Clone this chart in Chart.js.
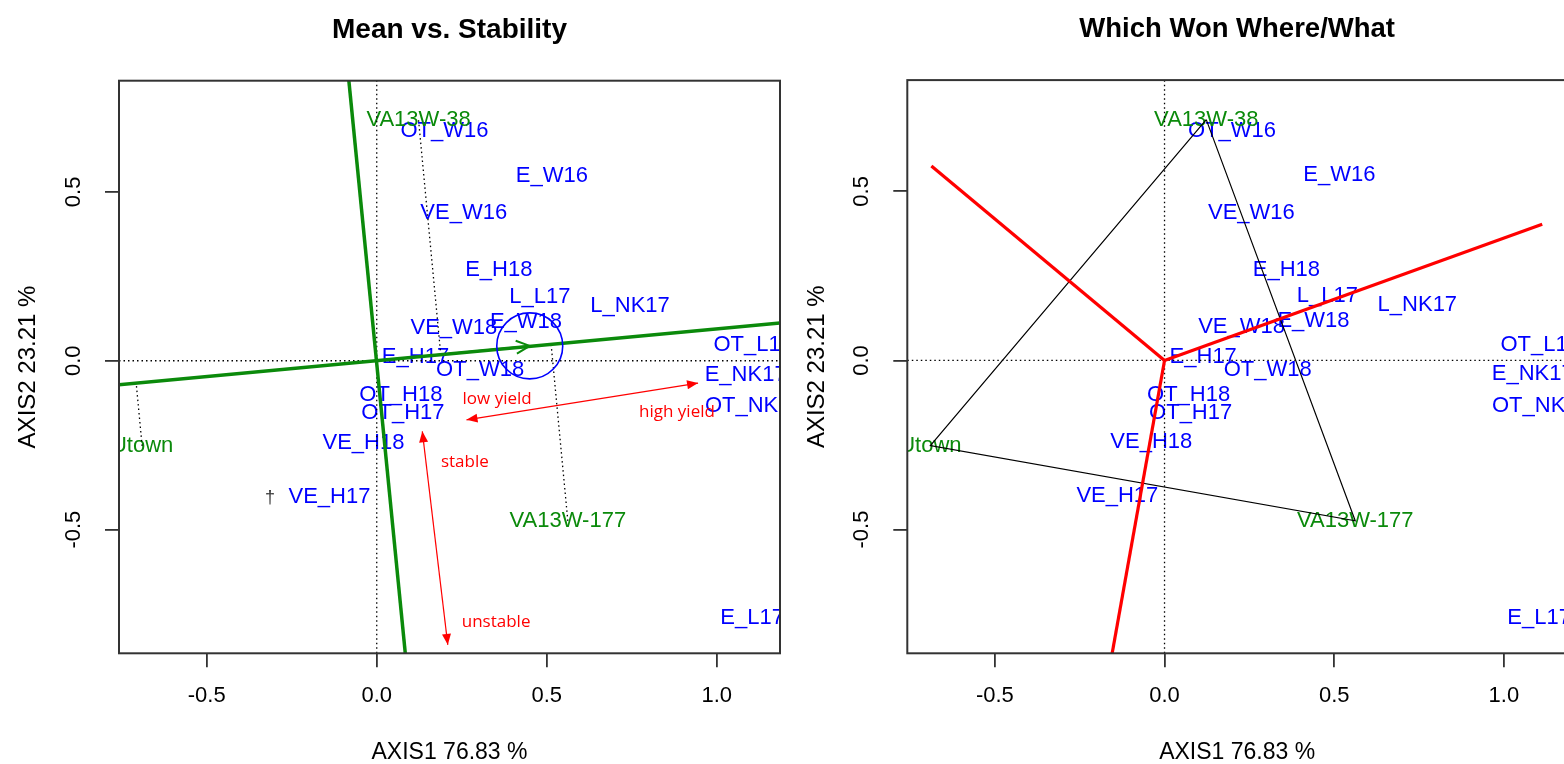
<!DOCTYPE html>
<html>
<head>
<meta charset="utf-8">
<title>GGE biplot – Mean vs. Stability / Which Won Where</title>
<script src="https://cdn.jsdelivr.net/npm/chart.js@4.4.1/dist/chart.umd.min.js"></script>
<style>
  html, body { margin: 0; padding: 0; background: #fff; width: 1564px; height: 764px; overflow: hidden; }
  canvas { position: absolute; top: 0; }
  #meanStability { left: 0; }
  #whichWon { left: 792px; }
</style>
</head>
<body>
<canvas id="meanStability" width="792" height="764"></canvas>
<canvas id="whichWon" width="790" height="764"></canvas>
<script>
// Environment scores on the first two principal axes
const envNames = ['OT_W16', 'E_W16', 'VE_W16', 'E_H18', 'L_L17', 'L_NK17', 'E_W18', 'VE_W18', 'OT_L17',
                  'E_H17', 'OT_W18', 'E_NK17', 'OT_H18', 'OT_H17', 'OT_NK17', 'VE_H18', 'VE_H17', 'E_L17'];
const envX = [0.199, 0.515, 0.256, 0.359, 0.480, 0.745, 0.439, 0.227, 1.107,
              0.114, 0.304, 1.085, 0.071, 0.077, 1.109, -0.039, -0.139, 1.104];
const envY = [0.679, 0.548, 0.437, 0.269, 0.190, 0.163, 0.116, 0.098, 0.047,
              0.010, -0.027, -0.041, -0.101, -0.155, -0.135, -0.242, -0.402, -0.761];

// Genotype scores
const genoNames = ['VA13W-38', 'VA13W-177', 'Utown'];
const genoX = [0.123, 0.562, -0.690];
const genoY = [0.712, -0.474, -0.252];

// Average-environment coordinate, its axis (abscissa + ordinate) and marker radius
const meanEnv = [0.450, 0.044];
const aecAbscissa = [[-0.759, -0.071], [1.186, 0.112]];
const aecOrdinate = [[-0.082, 0.829], [0.084, -0.866]];
const meanEnvRadius = 0.097;

// Sector boundaries drawn from the origin (end points)
const sectorRayX = [-0.687, 1.113, -0.155];
const sectorRayY = [0.575, 0.403, -0.870];

// Polygon through the vertex genotypes (indices into the genotype arrays)
const hullOrder = [0, 1, 2, 0];

// Hand annotations on the mean vs. stability view
const yieldArrow = [[0.264, -0.175], [0.945, -0.066]];
const stabilityArrow = [[0.134, -0.209], [0.209, -0.841]];
const noteText = ['low yield', 'high yield', 'stable', 'unstable'];
const noteX = [0.354, 0.883, 0.259, 0.351];
const noteY = [-0.115, -0.151, -0.299, -0.775];
const markX = [-0.314];
const markY = [-0.406];

// Axis ranges, ticks and titles
const xRange = [-0.758, 1.186];
const yRange = [-0.866, 0.829];
const xTickValues = [-0.5, 0.0, 0.5, 1.0];
const yTickValues = [-0.5, 0.0, 0.5];
const axisTitleX = 'AXIS1 76.83 %';
const axisTitleY = 'AXIS2 23.21 %';

// ---------------------------------------------------------------------------
const BLUE = '#0000ff';
const GREEN = '#0b8a0b';
const RED = '#ff0000';
const FRAME = '#333333';
const LABEL_FONT = '22px "Liberation Sans", Arial, sans-serif';
const NOTE_FONT = '17px "Open Sans", "Liberation Sans", sans-serif';

Chart.defaults.font.family = '"Liberation Sans", Arial, sans-serif';
Chart.defaults.color = '#000';

const pts = (xs, ys) => xs.map((x, i) => ({ x, y: ys[i] }));
const pair = (p) => p.map(([x, y]) => ({ x, y }));

// foot of the perpendicular from a genotype onto the average-environment abscissa
const ux = aecAbscissa[1][0] - aecAbscissa[0][0];
const uy = aecAbscissa[1][1] - aecAbscissa[0][1];
function foot(x, y) {
  const t = (x * ux + y * uy) / (ux * ux + uy * uy);
  return { x: t * ux, y: t * uy };
}

function lineDs(data, color, width, dash, order) {
  return {
    data, showLine: true, borderColor: color, backgroundColor: color, borderWidth: width,
    borderDash: dash || [], pointRadius: 0, pointHoverRadius: 0, tension: 0, clip: 0, order
  };
}
function labelDs(data, names, color, font, order) {
  return { data, showLine: false, pointRadius: 0, pointHoverRadius: 0, textLabels: names,
           textColor: color, textFont: font, order };
}
const dotted = [1.5, 3];
const zeroLines = () => [
  lineDs([{ x: xRange[0], y: 0 }, { x: xRange[1], y: 0 }], '#000', 1.3, dotted, 20),
  lineDs([{ x: 0, y: yRange[0] }, { x: 0, y: yRange[1] }], '#000', 1.3, dotted, 20)
];

function scales(yWidth, yTitlePad) {
  return {
    x: {
      type: 'linear', min: xRange[0], max: xRange[1],
      afterBuildTicks: (s) => { s.ticks = xTickValues.map((v) => ({ value: v })); },
      afterFit: (s) => { s.height = 110.7; },
      grid: { display: true, drawOnChartArea: false, drawTicks: true, tickLength: 14, color: FRAME, lineWidth: 1.8 },
      border: { display: false },
      ticks: { autoSkip: false, minRotation: 0, maxRotation: 0, padding: 15.5, color: '#000',
               font: { size: 22 }, callback: (v) => Number(v).toFixed(1) },
      title: { display: true, text: axisTitleX, color: '#000', font: { size: 23, lineHeight: 1 },
               padding: { top: 0, bottom: 0 } }
    },
    y: {
      type: 'linear', min: yRange[0], max: yRange[1],
      afterBuildTicks: (s) => { s.ticks = yTickValues.map((v) => ({ value: v })); },
      afterFit: (s) => { s.width = yWidth; },
      grid: { display: true, drawOnChartArea: false, drawTicks: true, tickLength: 14, color: FRAME, lineWidth: 1.8 },
      border: { display: false },
      ticks: { autoSkip: false, minRotation: 90, maxRotation: 90, crossAlign: 'center', padding: 12,
               color: '#000', font: { size: 22 }, callback: (v) => Number(v).toFixed(1) },
      title: { display: true, text: axisTitleY, color: '#000', font: { size: 24, lineHeight: 1 },
               padding: { top: yTitlePad, bottom: 0 } }
    }
  };
}

function filledHead(ctx, fx, fy, tx, ty, len, halfW) {
  const a = Math.atan2(ty - fy, tx - fx);
  const bx = tx - len * Math.cos(a), by = ty - len * Math.sin(a);
  ctx.beginPath();
  ctx.moveTo(tx, ty);
  ctx.lineTo(bx + halfW * Math.sin(a), by - halfW * Math.cos(a));
  ctx.lineTo(bx - halfW * Math.sin(a), by + halfW * Math.cos(a));
  ctx.closePath();
  ctx.fill();
}
function openHead(ctx, fx, fy, tx, ty, len, ang) {
  const a = Math.atan2(ty - fy, tx - fx);
  ctx.beginPath();
  ctx.moveTo(tx - len * Math.cos(a - ang), ty - len * Math.sin(a - ang));
  ctx.lineTo(tx, ty);
  ctx.lineTo(tx - len * Math.cos(a + ang), ty - len * Math.sin(a + ang));
  ctx.stroke();
}

// text labels under the lines, frame on top; everything clipped to the plot box
const biplotLabels = {
  id: 'biplotLabels',
  beforeDatasetsDraw(chart) {
    const { ctx, chartArea: a } = chart;
    ctx.save();
    ctx.beginPath(); ctx.rect(a.left, a.top, a.width, a.height); ctx.clip();
    ctx.textAlign = 'center'; ctx.textBaseline = 'middle';
    chart.data.datasets.forEach((ds, i) => {
      if (!ds.textLabels) return;
      ctx.font = ds.textFont; ctx.fillStyle = ds.textColor;
      chart.getDatasetMeta(i).data.forEach((el, j) => ctx.fillText(ds.textLabels[j], el.x, el.y));
    });
    ctx.restore();
  },
  afterDraw(chart) {
    const { ctx, chartArea: a } = chart;
    ctx.save();
    ctx.strokeStyle = FRAME; ctx.lineWidth = 2;
    ctx.strokeRect(a.left, a.top, a.width, a.height);
    ctx.restore();
  }
};

// average-environment marker, arrow heads and notes of the left view
const meanStabilityExtras = {
  id: 'meanStabilityExtras',
  afterDatasetsDraw(chart) {
    const { ctx, chartArea: a, scales: { x, y } } = chart;
    const P = (vx, vy) => [x.getPixelForValue(vx), y.getPixelForValue(vy)];
    ctx.save();
    ctx.beginPath(); ctx.rect(a.left, a.top, a.width, a.height); ctx.clip();

    const [cx, cy] = P(meanEnv[0], meanEnv[1]);
    const [ox, oy] = P(0, 0);
    const r = Math.abs(x.getPixelForValue(meanEnv[0] + meanEnvRadius) - cx);
    ctx.strokeStyle = BLUE; ctx.lineWidth = 1.6;
    ctx.beginPath(); ctx.arc(cx, cy, r, 0, Math.PI * 2); ctx.stroke();

    ctx.strokeStyle = GREEN; ctx.lineWidth = 2;
    openHead(ctx, ox, oy, cx, cy, 15, 0.45);

    ctx.fillStyle = RED;
    for (const arr of [yieldArrow, stabilityArrow]) {
      const [p0x, p0y] = P(arr[0][0], arr[0][1]);
      const [p1x, p1y] = P(arr[1][0], arr[1][1]);
      filledHead(ctx, p0x, p0y, p1x, p1y, 11, 4.5);
      filledHead(ctx, p1x, p1y, p0x, p0y, 11, 4.5);
    }

    ctx.textAlign = 'center'; ctx.textBaseline = 'middle';
    ctx.font = NOTE_FONT; ctx.fillStyle = RED;
    noteText.forEach((t, i) => { const [tx, ty] = P(noteX[i], noteY[i]); ctx.fillText(t, tx, ty); });

    ctx.font = '18px "Liberation Sans", Arial, sans-serif'; ctx.fillStyle = '#333';
    markX.forEach((mx, i) => { const [tx, ty] = P(mx, markY[i]); ctx.fillText('\u2020', tx, ty); });
    ctx.restore();
  }
};

const commonPlugins = (title, size) => ({
  legend: { display: false },
  tooltip: { enabled: false },
  title: { display: true, text: title, color: '#000', fullSize: false,
           font: { size, weight: 'bold', lineHeight: 1.2 }, padding: { top: 13.2, bottom: 33.9 } }
});

// ---- Mean vs. Stability --------------------------------------------------
const genoPts = pts(genoX, genoY);
const projections = genoPts.map((g) => lineDs([g, foot(g.x, g.y)], '#000', 1.3, dotted, 15));

new Chart(document.getElementById('meanStability'), {
  type: 'scatter',
  data: {
    datasets: [
      labelDs(pts(envX, envY), envNames, BLUE, LABEL_FONT, 1),
      labelDs(genoPts, genoNames, GREEN, LABEL_FONT, 1),
      lineDs(pair(aecAbscissa), GREEN, 3.5, [], 4),
      lineDs(pair(aecOrdinate), GREEN, 3.5, [], 4),
      lineDs([{ x: 0, y: 0 }, { x: meanEnv[0], y: meanEnv[1] }], GREEN, 2, [], 5),
      lineDs(pair(yieldArrow), RED, 1.2, [], 3),
      lineDs(pair(stabilityArrow), RED, 1.2, [], 3),
      ...projections,
      ...zeroLines()
    ]
  },
  options: {
    responsive: false, animation: false, events: [],
    layout: { padding: { left: 0, right: 12, top: 0, bottom: 0 } },
    scales: scales(119, 16),
    plugins: commonPlugins('Mean vs. Stability', 28)
  },
  plugins: [biplotLabels, meanStabilityExtras]
});

// ---- Which Won Where/What ------------------------------------------------
const rays = sectorRayX.map((rx, i) => lineDs([{ x: 0, y: 0 }, { x: rx, y: sectorRayY[i] }], RED, 3.2, [], 3));
const hull = lineDs(hullOrder.map((k) => genoPts[k]), '#000', 1.2, [], 6);

new Chart(document.getElementById('whichWon'), {
  type: 'scatter',
  data: {
    datasets: [
      labelDs(pts(envX, envY), envNames, BLUE, LABEL_FONT, 1),
      labelDs(genoPts, genoNames, GREEN, LABEL_FONT, 1),
      ...rays,
      hull,
      ...zeroLines()
    ]
  },
  options: {
    responsive: false, animation: false, events: [],
    layout: { padding: { left: 0, right: 15, top: 0, bottom: 0 } },
    scales: scales(115.3, 13.7),
    plugins: commonPlugins('Which Won Where/What', 27.5)
  },
  plugins: [biplotLabels]
});
</script>
</body>
</html>
